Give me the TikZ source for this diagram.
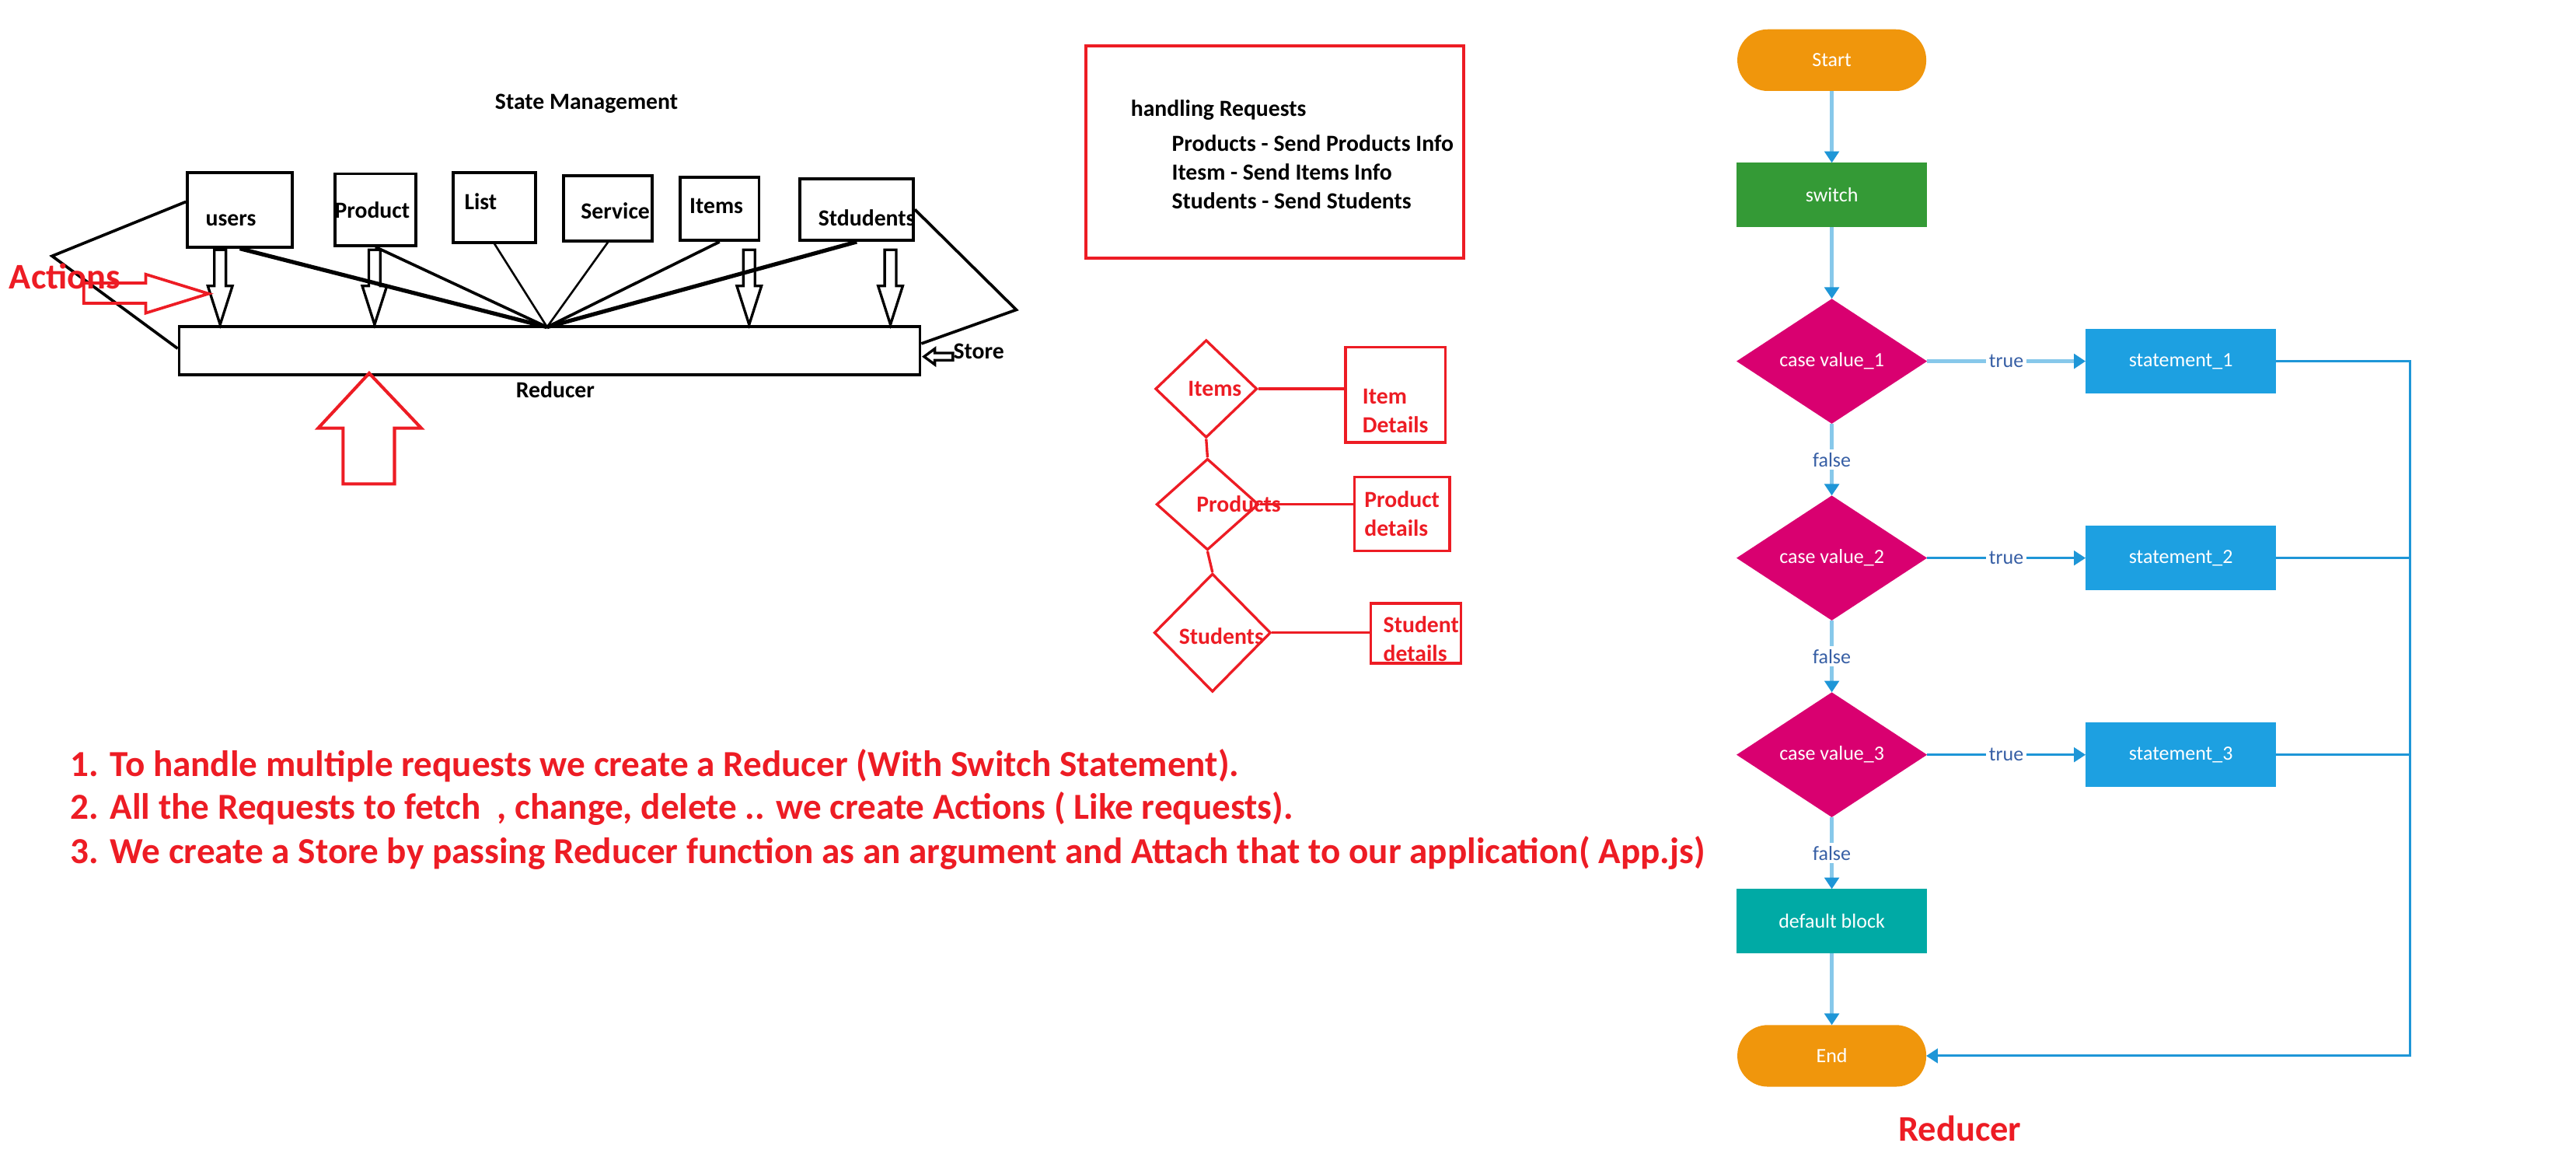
\documentclass[tikz,border=0pt]{standalone}
\usepackage{fontspec}
\setmainfont{Carlito}
\usetikzlibrary{shapes.geometric, arrows.meta, positioning}
\definecolor{paintred}{RGB}{237,28,36}
\definecolor{flowamber}{RGB}{240,150,12}
\definecolor{flowgreen}{RGB}{52,154,54}
\definecolor{flowpink}{RGB}{217,0,112}
\definecolor{flowblue}{RGB}{29,160,225}
\definecolor{flowteal}{RGB}{0,170,165}
\definecolor{linelight}{RGB}{135,200,234}
\definecolor{linedark}{RGB}{30,150,215}
\definecolor{labelblue}{RGB}{55,95,165}

\begin{document}
\begin{tikzpicture}[x=0.02cm, y=-0.02cm,
  every node/.style={font=\bfseries\fontsize{8}{10}\selectfont},
  entity/.style={draw, line width=1pt, inner sep=0pt},
  hollow/.style={draw, line width=0.9pt},
  choice/.style={diamond, draw=paintred, line width=0.9pt, inner sep=0pt},
  detail/.style={draw=paintred, line width=0.9pt, inner sep=0pt},
  terminal/.style={rectangle, rounded corners=3.7mm, fill=flowamber, text=white, outer sep=0pt, minimum width=2.3cm, minimum height=0.75cm, font=\fontsize{7}{8}\selectfont},
  process/.style={rectangle, text=white, outer sep=0pt, minimum width=2.32cm, minimum height=0.78cm, font=\fontsize{7}{8}\selectfont},
  decision/.style={diamond, aspect=1.5, fill=flowpink, text=white, inner sep=0pt, outer sep=0pt, minimum width=2.32cm, minimum height=1.52cm, font=\fontsize{7}{8}\selectfont},
  flow/.style={draw=linelight, line width=1.2pt, -{Triangle[length=4pt, width=5pt, color=linedark]}},
  back/.style={draw=linedark, line width=0.8pt},
  tag/.style={fill=white, text=labelblue, inner sep=1pt, font=\fontsize{7}{8}\selectfont}]
\useasboundingbox (0,0) rectangle (1568,708);

% state management sketch
\node (title) at (357,63) {State Management};
\node (users) [entity, minimum width=1.28cm, minimum height=0.906cm, label={[xshift=-3.1pt, yshift=-3.6pt]center:users}] at (146,127.7) {};
\node (product) [entity, minimum width=0.98cm, minimum height=0.872cm, label={[xshift=-1.1pt]center:Product}] at (228.5,127.6) {};
\node (list) [entity, minimum width=1.0cm, minimum height=0.852cm, label={[xshift=-4.8pt, yshift=2pt]center:List}] at (301,126.2) {};
\node (service) [entity, minimum width=1.08cm, minimum height=0.794cm, label={[xshift=2.6pt, yshift=-1pt]center:Service}] at (370,126.7) {};
\node (items) [entity, minimum width=0.96cm, minimum height=0.77cm, label={[xshift=-1.1pt, yshift=0.9pt]center:Items}] at (438,127) {};
\node (stdudents) [entity, minimum width=1.38cm, minimum height=0.75cm, label={[xshift=3.5pt, yshift=-3pt]center:Stdudents}] at (521.5,127.5) {};
\node (reducer) [entity, minimum width=9.02cm, minimum height=0.584cm] at (334.5,213.3) {};
\node (reducerlbl) at (338,237) {Reducer};
\coordinate (hub) at (333,199);
\coordinate (lbend) at (31.7,155.8);
\coordinate (rbend) at (618.6,188.5);

\draw[line width=1.4pt] (users.south) -- (hub);
\draw[line width=1pt] (product.south) -- (hub);
\draw[line width=0.7pt] (list.south) -- (hub);
\draw[line width=0.7pt] (service.south) -- (hub);
\draw[line width=1pt] (items.south) -- (hub);
\draw[line width=1.4pt] (stdudents.south) -- (hub);

\draw[hollow] (130.5,152) -- ++(0,22) -- ++(-4,0) -- ++(7.5,23.5) -- ++(7.5,-23.5) -- ++(-4,0) -- ++(0,-22) -- cycle;
\draw[hollow] (224.5,152) -- ++(0,22) -- ++(-4,0) -- ++(7.5,23.5) -- ++(7.5,-23.5) -- ++(-4,0) -- ++(0,-22) -- cycle;
\draw[hollow] (452.5,152) -- ++(0,22) -- ++(-4,0) -- ++(7.5,23.5) -- ++(7.5,-23.5) -- ++(-4,0) -- ++(0,-22) -- cycle;
\draw[hollow] (538.5,152) -- ++(0,22) -- ++(-4,0) -- ++(7.5,23.5) -- ++(7.5,-23.5) -- ++(-4,0) -- ++(0,-22) -- cycle;

\draw[line width=1pt] ([yshift=2.8pt]users.west) -- (lbend) -- ([yshift=0.7pt]reducer.west);
\draw[line width=1pt] (stdudents.east) -- (rbend) -- ([yshift=2.4pt]reducer.east);

\draw[hollow] (562.5,217) -- ++(6.5,-4.8) -- ++(0,2.6) -- ++(11,0) -- ++(0,4.4) -- ++(-11,0) -- ++(0,2.6) -- cycle;
\node (store) [anchor=west, inner sep=0pt] at (580,214) {Store};

\node (actions) [text=paintred, font=\bfseries\fontsize{12.5}{14}\selectfont] at (39.5,168) {Actions};
\draw[draw=paintred, line width=1pt] (51,172.2) -- (88.7,172.2) -- (88.7,166.9) -- (127,178.7) -- (88.7,190.5) -- (88.7,184.5) -- (51,184.5) -- cycle;
\draw[draw=paintred, line width=1.1pt] (224.7,227.1) -- (256.4,260.5) -- (240.1,260.5) -- (240.1,294.5) -- (208.8,294.5) -- (208.8,260.5) -- (193.7,260.5) -- cycle;

% requests
\node (requests) [draw=paintred, line width=1.1pt, minimum width=4.6cm, minimum height=2.58cm] at (776,92.5) {};
\node (reqtext) [anchor=north west, align=left, inner sep=0pt] at (688,60.5) {handling Requests\\[2pt]\hspace*{14.2pt}Products - Send Products Info\\\hspace*{14.2pt}Itesm - Send Items Info\\\hspace*{14.2pt}Students - Send Students};

\node (itemsd) [choice, minimum width=1.24cm, minimum height=1.19cm, label={[xshift=3pt, text=paintred]center:Items}] at (734.2,236.6) {};
\node (productsd) [choice, minimum width=1.244cm, minimum height=1.112cm, label={[xshift=10.8pt, text=paintred]center:Products}] at (735,306.9) {};
\node (studentsd) [choice, minimum width=1.42cm, minimum height=1.44cm, label={[xshift=3.1pt, yshift=-1.2pt, text=paintred]center:Students}] at (738,385) {};
\node (itemdet) [detail, minimum width=1.214cm, minimum height=1.158cm, label={[yshift=-5.5pt, align=left, text=paintred]center:Item\\Details}] at (849.4,240.3) {};
\node (proddet) [detail, minimum width=1.16cm, minimum height=0.898cm, label={[align=left, text=paintred]center:Product\\details}] at (853.4,312.7) {};
\node (studdet) [detail, minimum width=1.098cm, minimum height=0.73cm, label={[xshift=1.9pt, yshift=-1.9pt, align=left, text=paintred]center:Student\\details}] at (861.7,385.4) {};

\draw[paintred, line width=0.9pt] (itemsd.south) -- (productsd.north);
\draw[paintred, line width=0.9pt] (productsd.south) -- (studentsd.north);
\draw[paintred, line width=0.9pt] (itemsd.east) -- (itemsd.east -| itemdet.west);
\draw[paintred, line width=0.9pt] (productsd.east) -- (productsd.east -| proddet.west);
\draw[paintred, line width=0.9pt] (studentsd.east) -- (studentsd.east -| studdet.west);

% notes
\node (note1) [anchor=west, inner sep=0pt, text=paintred, font=\bfseries\fontsize{12.7}{14}\selectfont] at (42.7,466) {1. To handle multiple requests we create a Reducer (With Switch Statement).};
\node (note2) [anchor=west, inner sep=0pt, text=paintred, font=\bfseries\fontsize{12.7}{14}\selectfont] at (42.7,492.1) {2. All the Requests to fetch~ , change, delete .. we create Actions ( Like requests).};
\node (note3) [anchor=west, inner sep=0pt, text=paintred, font=\bfseries\fontsize{12.7}{14}\selectfont] at (42.7,518.9) {3. We create a Store by passing Reducer function as an argument and Attach that to our application( App.js)};

% switch flowchart
\node (start) [terminal] at (1115,36.6) {Start};
\node (switch) [process, fill=flowgreen, below=0.875cm of start] {switch};
\node (case1) [decision, below=0.875cm of switch] {case value\_1};
\node (case2) [decision, below=0.875cm of case1] {case value\_2};
\node (case3) [decision, below=0.875cm of case2] {case value\_3};
\node (default) [process, fill=flowteal, below=0.875cm of case3] {default block};
\node (end) [terminal, below=0.875cm of default] {End};
\node (stmt1) [process, fill=flowblue, right=1.93cm of case1] {statement\_1};
\node (stmt2) [process, fill=flowblue, right=1.93cm of case2] {statement\_2};
\node (stmt3) [process, fill=flowblue, right=1.93cm of case3] {statement\_3};
\coordinate (join) at (1467,0);

\draw[flow] (start) -- (switch);
\draw[flow] (switch) -- (case1);
\draw[flow] (case1) -- node[tag]{false} (case2);
\draw[flow] (case2) -- node[tag]{false} (case3);
\draw[flow] (case3) -- node[tag]{false} (default);
\draw[flow] (default) -- (end);
\draw[flow] (case1) -- node[tag]{true} (stmt1);
\draw[flow, draw=linedark, line width=0.7pt] (case2) -- node[tag]{true} (stmt2);
\draw[flow, draw=linedark, line width=0.7pt] (case3) -- node[tag]{true} (stmt3);
\draw[back, -{Triangle[length=4pt, width=5pt]}] (stmt1.east) -| (end.east -| join) -- (end.east);
\draw[back] (stmt2.east) -- (stmt2.east -| join);
\draw[back] (stmt3.east) -- (stmt3.east -| join);
\node (flowtitle) [text=paintred, font=\bfseries\fontsize{12.5}{14}\selectfont] at (1193,686.6) {Reducer};
\end{tikzpicture}
\end{document}
